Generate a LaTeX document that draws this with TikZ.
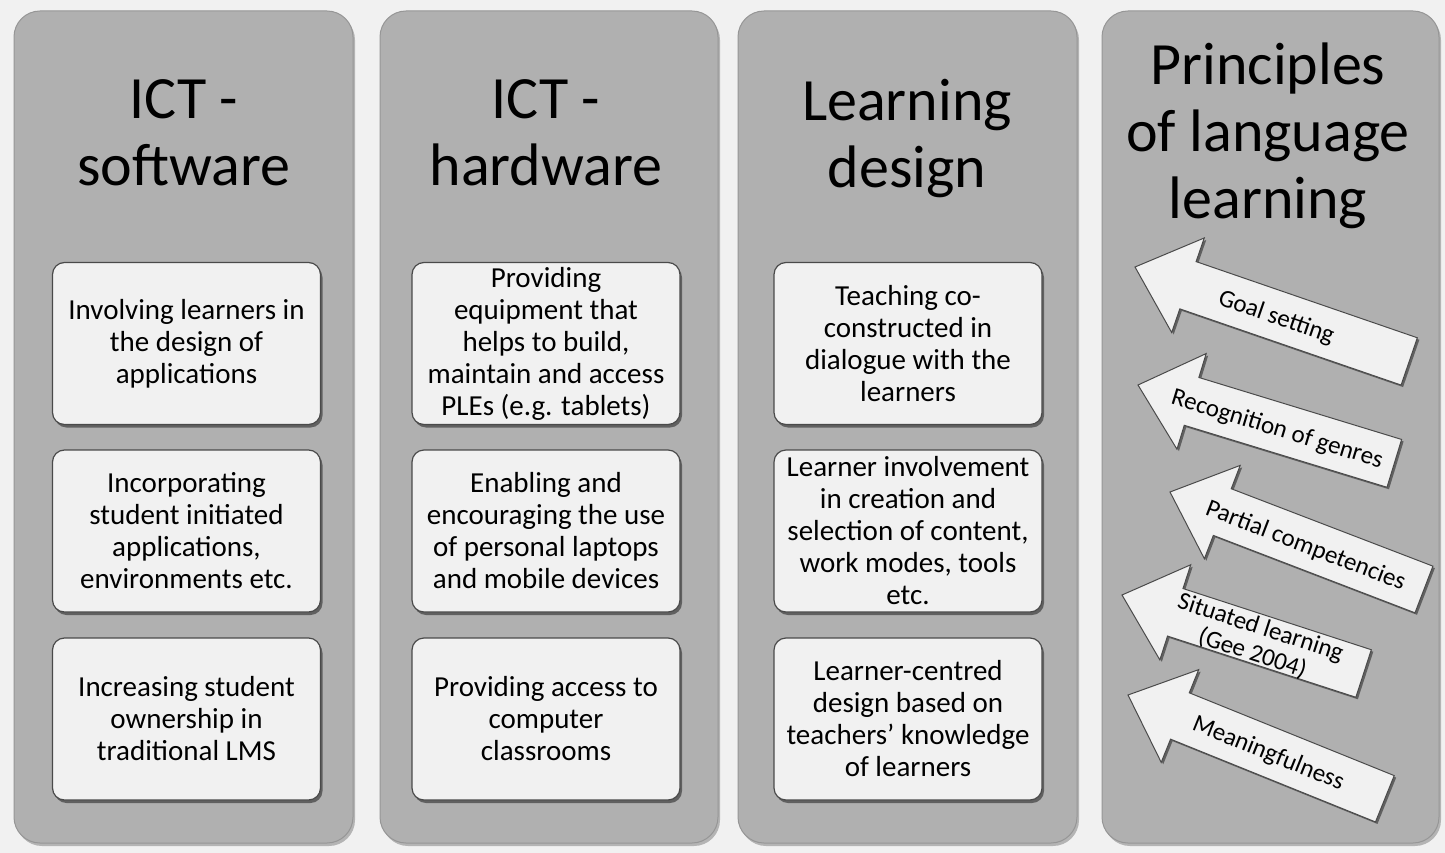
\documentclass[tikz,border=0pt]{standalone}
\usepackage{fontspec}
\setmainfont{Carlito}
\usetikzlibrary{shadows}
\definecolor{bgcol}{HTML}{F1F1F1}
\definecolor{panelcol}{HTML}{B0B0B0}
\definecolor{boxcol}{HTML}{F1F1F1}
\definecolor{edgecol}{HTML}{4A4A4A}
\begin{document}
\begin{tikzpicture}[x=1pt,y=1pt,
  panel/.style={draw=panelcol!85!black, line width=1pt, fill=panelcol, rounded corners=26pt,
    drop shadow={shadow xshift=2pt, shadow yshift=-3pt, fill=black, opacity=0.25},
    inner sep=0pt},
  title/.style={anchor=north, inner sep=0pt, align=center, font=\fontsize{60}{67}\selectfont},
  itembox/.style={draw=edgecol, line width=1.2pt, fill=boxcol, rounded corners=12pt,
    minimum width=268pt, minimum height=162pt, align=center, inner sep=2pt,
    font=\fontsize{29}{32}\selectfont,
    drop shadow={shadow xshift=2pt, shadow yshift=-3pt, fill=black, opacity=0.45}},
  bigarrow/.style={draw=edgecol, line width=1pt, fill=boxcol, line join=miter,
    drop shadow={shadow xshift=2pt, shadow yshift=-2pt, fill=black, opacity=0.45}},
  arrowtext/.style={transform shape, align=center, inner sep=0pt,
    font=\fontsize{25}{27}\selectfont}
]
\useasboundingbox (0,0) rectangle (1445,-853);
\fill[bgcol] (0,0) rectangle (1445,-853);

% panels
\node[panel, minimum width=339pt, minimum height=832pt] (p1) at (183.5,-427) {};
\node[panel, minimum width=338pt, minimum height=832pt] (p2) at (549,-427) {};
\node[panel, minimum width=339pt, minimum height=832pt] (p3) at (907.5,-427) {};
\node[panel, minimum width=337pt, minimum height=832pt] (p4) at (1270.5,-427) {};

% titles
\node[title] (t1) at (184,-79) {ICT -\\software};
\node[title] (t2) at (546,-79) {ICT -\\hardware};
\node[title] (t3) at (907,-79) {Learning\\design};
\node[title] (t4) at (1268,-43) {Principles\\of language\\learning};

% column 1
\node[itembox] (s1) at (186.5,-343.5) {Involving learners in\\the design of\\applications};
\node[itembox] (s2) at (186.5,-531) {Incorporating\\student initiated\\applications,\\environments etc.};
\node[itembox] (s3) at (186.5,-719) {Increasing student\\ownership in\\traditional LMS};

% column 2
\node[itembox] (h1) at (546,-343.5) {Providing\\equipment that\\helps to build,\\maintain and access\\PLEs (e.g. tablets)};
\node[itembox] (h2) at (546,-531) {Enabling and\\encouraging the use\\of personal laptops\\and mobile devices};
\node[itembox] (h3) at (546,-719) {Providing access to\\computer\\classrooms};

% column 3
\node[itembox] (d1) at (908,-343.5) {Teaching co-\\constructed in\\dialogue with the\\learners};
\node[itembox] (d2) at (908,-531) {Learner involvement\\in creation and\\selection of content,\\work modes, tools\\etc.};
\node[itembox] (d3) at (908,-719) {Learner-centred\\design based on\\teachers' knowledge\\of learners};

% arrows
\begin{scope}[shift={(1135,-267)}, rotate=-19]
  \draw[bigarrow] (0,0) -- (56,50) -- (56,25) -- (290,25) -- (290,-25) -- (56,-25) -- (56,-50) -- cycle;
  \node[arrowtext] (a1) at (150,-2) {Goal setting};
\end{scope}
\begin{scope}[shift={(1138,-385)}, rotate=-17]
  \draw[bigarrow] (0,0) -- (56,50) -- (56,25) -- (268,25) -- (268,-25) -- (56,-25) -- (56,-50) -- cycle;
  \node[arrowtext] (a2) at (146,-2) {Recognition of genres};
\end{scope}
\begin{scope}[shift={(1170,-492)}, rotate=-21]
  \draw[bigarrow] (0,0) -- (56,50) -- (56,25) -- (272,25) -- (272,-25) -- (56,-25) -- (56,-50) -- cycle;
  \node[arrowtext] (a3) at (146,-2) {Partial competencies};
\end{scope}
\begin{scope}[shift={(1122,-595)}, rotate=-18]
  \draw[bigarrow] (0,0) -- (56,50) -- (56,25) -- (254,25) -- (254,-25) -- (56,-25) -- (56,-50) -- cycle;
  \node[arrowtext] (a4) at (142,-2) {Situated learning\\(Gee 2004)};
\end{scope}
\begin{scope}[shift={(1128,-695)}, rotate=-22]
  \draw[bigarrow] (0,0) -- (56,50) -- (56,25) -- (277,25) -- (277,-25) -- (56,-25) -- (56,-50) -- cycle;
  \node[arrowtext] (a5) at (152,-2) {Meaningfulness};
\end{scope}
\end{tikzpicture}
\end{document}
